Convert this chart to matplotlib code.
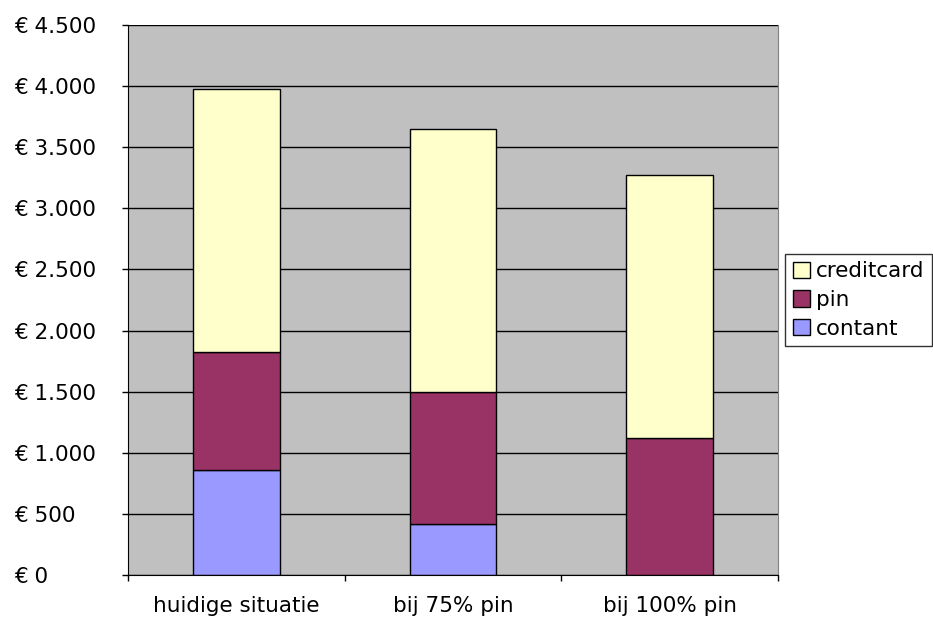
import matplotlib.pyplot as plt
import numpy as np

categories = ["huidige situatie", "bij 75% pin", "bij 100% pin"]
contant = [860, 420, 0]
pin = [965, 1075, 1120]
creditcard = [2155, 2155, 2155]
yticks = [0, 500, 1000, 1500, 2000, 2500, 3000, 3500, 4000, 4500]
ytick_labels = ["€ 0", "€ 500", "€ 1.000", "€ 1.500", "€ 2.000",
                "€ 2.500", "€ 3.000", "€ 3.500", "€ 4.000", "€ 4.500"]

plt.rcParams['font.family'] = ['DejaVu Sans']

fig = plt.figure(figsize=(9.33, 6.22), dpi=100)
ax = fig.add_axes([128 / 933, 1 - 575 / 622, 650 / 933, 550 / 622])
ax.set_facecolor("#C0C0C0")

x = np.arange(len(categories))
w = 0.4
b1 = ax.bar(x, contant, w, color="#9999FF", edgecolor="black", linewidth=1, label="contant")
b2 = ax.bar(x, pin, w, bottom=contant, color="#993366", edgecolor="black", linewidth=1, label="pin")
bottom2 = np.array(contant) + np.array(pin)
b3 = ax.bar(x, creditcard, w, bottom=bottom2, color="#FFFFCC", edgecolor="black", linewidth=1, label="creditcard")

ax.set_xlim(-0.5, 2.5)
ax.set_ylim(0, 4500)
ax.set_yticks(yticks)
ax.set_yticklabels(ytick_labels, fontsize=15.5, ha="left")
ax.yaxis.grid(True, color="black", linewidth=1)
ax.set_axisbelow(True)

# category labels centred, tick marks on the boundaries
ax.set_xticks(x)
ax.set_xticklabels(categories, fontsize=15.5)
ax.tick_params(axis="x", length=0, pad=15)
ax.set_xticks([-0.5, 0.5, 1.5, 2.5], minor=True)
ax.tick_params(axis="x", which="minor", length=4.3, width=1, direction="out")
# left-aligned euro labels starting near the figure edge
ax.tick_params(axis="y", length=4.3, width=1, direction="out", pad=77.8)

ax.spines["right"].set_color("#808080")
ax.spines["top"].set_visible(False)

leg = ax.legend([b3, b2, b1], ["creditcard", "pin", "contant"],
                loc="center left", bbox_to_anchor=(785 / 933, 1 - 300 / 622),
                bbox_transform=fig.transFigure, fontsize=15.5, frameon=True,
                fancybox=False, borderpad=0.35, labelspacing=0.4,
                handlelength=0.8, handleheight=0.8, handletextpad=0.3,
                borderaxespad=0)
leg.get_frame().set_edgecolor("black")
leg.get_frame().set_linewidth(1)

fig.savefig("out.png", dpi=100)
